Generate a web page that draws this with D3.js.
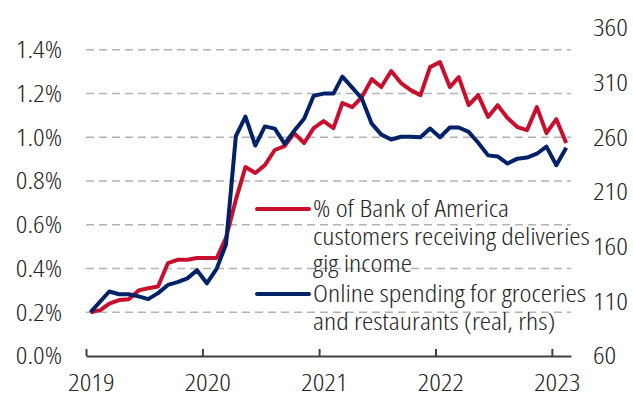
<!DOCTYPE html>
<html lang="en">
  <head>
    <meta charset="UTF-8" />
    <title>Gig income and online spending</title>
    <script src="https://cdn.jsdelivr.net/npm/d3@7"></script>
    <style>
      body {
        margin: 0;
        background: #fff;
      }
      svg {
        display: block;
        font-family: "Open Sans", "Liberation Sans", sans-serif;
        font-stretch: 87.5%;
        font-weight: 300;
        font-size: 24px;
        fill: #262626;
      }
      .grid line {
        stroke: #b3b3b3;
        stroke-width: 1.5px;
        stroke-dasharray: 8 5;
      }
      .line {
        fill: none;
        stroke-width: 4px;
        stroke-linejoin: round;
      }
    </style>
  </head>
  <body>
    <div class="chart"></div>
    <script>
      // monthly, Jan 2019 - Feb 2023
      var months = d3.timeMonth.range(new Date(2019, 0, 1), new Date(2023, 2, 1));

      // % of BofA customers receiving deliveries gig income (lhs, %)
      var gigShare = [
        0.2, 0.21, 0.24, 0.256, 0.26, 0.3, 0.31, 0.318, 0.425, 0.44,
        0.44, 0.448, 0.448, 0.448, 0.54, 0.715, 0.864, 0.837, 0.873, 0.942,
        0.96, 1.019, 0.974, 1.042, 1.074, 1.042, 1.157, 1.138, 1.184, 1.266,
        1.23, 1.303, 1.248, 1.216, 1.193, 1.321, 1.344, 1.23, 1.275, 1.147,
        1.193, 1.093, 1.147, 1.088, 1.047, 1.033, 1.138, 1.019, 1.083, 0.974
      ];

      // online spending for groceries and restaurants (real, rhs)
      var onlineSpend = [
        100, 110, 119, 116.5, 116.5, 114.5, 112, 117.5, 125, 127.5,
        131, 138.5, 126.5, 140, 162, 261, 279, 252.5, 270, 268,
        254, 266, 277, 298, 300, 300, 315.5, 305.5, 295.5, 272.5,
        262.5, 258, 260.5, 260.5, 260, 268, 260, 269, 269, 265,
        255, 243.5, 242.5, 236, 240.5, 241.5, 245, 251.5, 234.5, 250.5
      ];

      var leftTicks = [0, 0.2, 0.4, 0.6, 0.8, 1.0, 1.2, 1.4];
      var rightTicks = [60, 110, 160, 210, 260, 310, 360];
      var yearTicks = [2019, 2020, 2021, 2022, 2023];

      var seriesNames = [
        ["% of Bank of America", "customers receiving deliveries", "gig income"],
        ["Online spending for groceries", "and restaurants (real, rhs)"]
      ];
      var colors = ["#c8102e", "#012169"];

      var width = 633,
        height = 395;
      var plot = { left: 86, right: 571, top: 28, bottom: 356 };

      var svg = d3
        .select(".chart")
        .append("svg")
        .attr("width", width)
        .attr("height", height);

      // the source font is a condensed one; fit whatever we get to the same width
      var probe = svg.append("text").text("customers receiving deliveries");
      var k = 277 / probe.node().getComputedTextLength();
      probe.remove();
      var squeeze = (ax) => "translate(" + ax * (1 - k) + ",0) scale(" + k + ",1)";

      var x = d3
        .scaleTime()
        .domain([new Date(2019, 0, 1), new Date(2023, 2, 2)])
        .range([plot.left, plot.right]);
      var yL = d3.scaleLinear().domain([0, 1.5]).range([plot.bottom, plot.top]);
      var yR = d3.scaleLinear().domain([60, 360]).range([plot.bottom, plot.top]);

      // data sits mid-month
      var mid = (d) => d3.timeDay.offset(d, 14);

      // gridlines
      svg
        .append("g")
        .attr("class", "grid")
        .selectAll("line")
        .data(leftTicks.filter((t) => t > 0))
        .enter()
        .append("line")
        .attr("x1", plot.left)
        .attr("x2", plot.right)
        .attr("y1", (d) => yL(d))
        .attr("y2", (d) => yL(d));

      // left axis labels
      svg
        .append("g")
        .attr("transform", squeeze(62))
        .selectAll("text")
        .data(leftTicks)
        .enter()
        .append("text")
        .attr("x", 62)
        .attr("y", (d) => yL(d))
        .attr("dy", "0.35em")
        .attr("text-anchor", "end")
        .text((d) => d3.format(".1f")(d) + "%");

      // right axis labels
      svg
        .append("g")
        .attr("transform", squeeze(593))
        .selectAll("text")
        .data(rightTicks)
        .enter()
        .append("text")
        .attr("x", 593)
        .attr("y", (d) => yR(d))
        .attr("dy", "0.35em")
        .text((d) => d);

      // x axis
      var xAxis = svg
        .append("g")
        .attr("transform", "translate(0," + plot.bottom + ")")
        .call(
          d3
            .axisBottom(x)
            .tickValues(yearTicks.map((y) => new Date(y, 0, 1)))
            .tickSize(-7)
            .tickSizeOuter(0)
            .tickFormat(d3.timeFormat("%Y"))
        );
      xAxis.attr("font-family", null).attr("font-size", null);
      xAxis.select(".domain").attr("stroke", "#404040").attr("stroke-width", 2);
      xAxis.selectAll(".tick line").attr("stroke", "#404040").attr("stroke-width", 2);
      xAxis
        .selectAll(".tick text")
        .attr("fill", "#262626")
        .attr("transform", squeeze(0))
        .attr("x", 4)
        .attr("y", 18)
        .attr("dy", "0.71em");

      // lines
      var redLine = d3
        .line()
        .x((d, i) => x(mid(months[i])))
        .y((d) => yL(d));
      var blueLine = d3
        .line()
        .x((d, i) => x(mid(months[i])))
        .y((d) => yR(d));

      svg
        .append("path")
        .datum(gigShare)
        .attr("class", "line")
        .attr("stroke", colors[0])
        .attr("d", redLine);

      svg
        .append("path")
        .datum(onlineSpend)
        .attr("class", "line")
        .attr("stroke", colors[1])
        .attr("d", blueLine);

      // legend
      var legendY = [209, 294];
      var legend = svg
        .selectAll(".legend")
        .data(seriesNames)
        .enter()
        .append("g")
        .attr("class", "legend")
        .attr("transform", (d, i) => "translate(0," + legendY[i] + ")");

      legend
        .append("line")
        .attr("x1", 257)
        .attr("x2", 309)
        .attr("stroke", (d, i) => colors[i])
        .attr("stroke-width", 4)
        .attr("stroke-linecap", "round");

      legend
        .append("text")
        .attr("transform", squeeze(313))
        .attr("x", 313)
        .attr("y", 8)
        .selectAll("tspan")
        .data((d) => d)
        .enter()
        .append("tspan")
        .attr("x", 313)
        .attr("dy", (d, i) => (i ? 27.7 : 0))
        .text((d) => d);
    </script>
  </body>
</html>
